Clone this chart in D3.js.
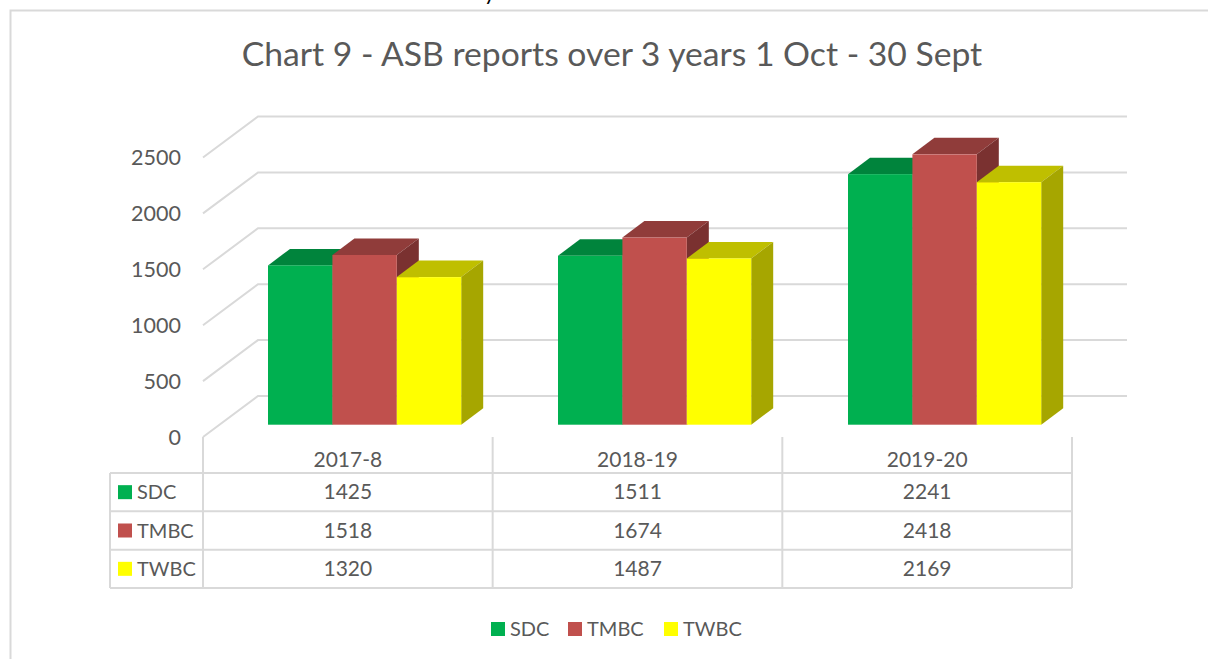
<!DOCTYPE html>
<html>
<head>
<meta charset="utf-8">
<script src="https://cdn.jsdelivr.net/npm/d3@7"></script>
<style>
html, body { margin: 0; padding: 0; background: #fff; overflow: hidden; }
text { font-family: Lato, "Open Sans", sans-serif; fill: #595959; }
</style>
</head>
<body>
<svg id="viz" width="1208" height="659"></svg>
<script>
var categories = ["2017-8", "2018-19", "2019-20"];
var seriesNames = ["SDC", "TMBC", "TWBC"];
var sdcValues = [1425, 1511, 2241];
var tmbcValues = [1518, 1674, 2418];
var twbcValues = [1320, 1487, 2169];
var yTicks = [0, 500, 1000, 1500, 2000, 2500];

var seriesValues = [sdcValues, tmbcValues, twbcValues];
var front = ["#00b050", "#c0504d", "#ffff00"];
var topFace = ["#00843c", "#903c3a", "#bfbf00"];
var sideFace = ["#006a30", "#7a3130", "#a6a600"];
var grey = "#d9d9d9";

var svg = d3.select("#viz");

// frame round the chart, open on the right where the picture is cropped
svg.append("path")
    .attr("d", "M10.5,659V10.5H1208")
    .attr("fill", "none")
    .attr("stroke", grey)
    .attr("stroke-width", 2);

// the cut off descender of the text line above the chart
svg.append("text")
    .attr("x", 484).attr("y", 0)
    .attr("font-size", 22)
    .style("fill", "#000")
    .text("y");

svg.append("text")
    .attr("x", 612).attr("y", 66)
    .attr("text-anchor", "middle")
    .attr("font-size", 33.7)
    .text("Chart 9 - ASB reports over 3 years 1 Oct - 30 Sept");

// y is the front plane of the bars, the walls sit further back
var y = d3.scaleLinear().domain([0, 2500]).range([424.7, 145.2]);
var wallLeft = 203, wallBack = 258, wallRight = 1127;
var wallDy = 28.7, wallFrontDy = 12.3;

// table columns
var x = d3.scaleBand().domain(categories).range([203, 1072]);
var barX = d3.scaleBand().domain(categories).range([203, 1073]);
var rowY = d3.scaleBand().domain(seriesNames).range([473, 588]);

var grid = svg.append("g");
yTicks.forEach(function(t) {
    var back = y(t) - wallDy;
    var left = y(t) + wallFrontDy;
    grid.append("path")
        .attr("d", d3.line()([[wallLeft, left], [wallBack, back], [wallRight, back]]))
        .attr("fill", "none")
        .attr("stroke", grey)
        .attr("stroke-width", 2);
    svg.append("text")
        .attr("x", 181).attr("y", left + 2.5)
        .attr("text-anchor", "end")
        .attr("dominant-baseline", "middle")
        .attr("font-size", 21.5)
        .text(t);
});

// bars, drawn back to front per group so the faces overlap like the original
var barW = 64.4, depthX = 22, depthY = 16.5, groupInset = 65;
categories.forEach(function(c, i) {
    var x0 = barX(c) + groupInset;
    seriesNames.forEach(function(s, j) {
        var g = svg.append("g");
        var xl = x0 + j * barW, xr = xl + barW;
        var yt = y(seriesValues[j][i]), yb = y(0);
        g.append("polygon").attr("fill", topFace[j])
            .attr("points", [[xl, yt], [xl + depthX, yt - depthY], [xr + depthX, yt - depthY], [xr, yt]].join(" "));
        g.append("polygon").attr("fill", sideFace[j])
            .attr("points", [[xr, yt], [xr + depthX, yt - depthY], [xr + depthX, yb - depthY], [xr, yb]].join(" "));
        g.append("rect").attr("fill", front[j])
            .attr("x", xl).attr("y", yt).attr("width", barW).attr("height", yb - yt);
    });
});

// data table
var table = svg.append("g").attr("stroke", grey).attr("stroke-width", 2);
x.domain().concat(["end"]).forEach(function(c) {
    var xp = c == "end" ? 1072 : x(c);
    table.append("line").attr("x1", xp).attr("x2", xp).attr("y1", 437).attr("y2", 588);
});
table.append("line").attr("x1", 110).attr("x2", 110).attr("y1", 473).attr("y2", 588);
[473].concat(seriesNames.map(function(s) { return rowY(s) + rowY.bandwidth(); })).forEach(function(yp) {
    table.append("line").attr("x1", 110).attr("x2", 1072).attr("y1", yp).attr("y2", yp);
});

categories.forEach(function(c) {
    svg.append("text")
        .attr("x", x(c) + x.bandwidth() / 2).attr("y", 462)
        .attr("dominant-baseline", "middle")
        .attr("text-anchor", "middle")
        .attr("font-size", 21)
        .text(c);
});
seriesNames.forEach(function(s, j) {
    var cy = rowY(s) + rowY.bandwidth() / 2;
    svg.append("rect").attr("x", 118).attr("y", cy - 7).attr("width", 14).attr("height", 14).attr("fill", front[j]);
    svg.append("text").attr("x", 137).attr("y", cy + 2)
        .attr("dominant-baseline", "middle")
        .attr("font-size", 20)
        .text(s);
    categories.forEach(function(c, i) {
        svg.append("text")
            .attr("x", x(c) + x.bandwidth() / 2).attr("y", cy + 2)
            .attr("dominant-baseline", "middle")
            .attr("text-anchor", "middle")
            .attr("font-size", 21)
            .text(seriesValues[j][i]);
    });
});

// legend
var legendX = [491, 568, 664];
seriesNames.forEach(function(s, j) {
    svg.append("rect").attr("x", legendX[j]).attr("y", 622).attr("width", 14).attr("height", 14).attr("fill", front[j]);
    svg.append("text").attr("x", legendX[j] + 19).attr("y", 630.5)
        .attr("dominant-baseline", "middle")
        .attr("font-size", 20)
        .text(s);
});
</script>
</body>
</html>
